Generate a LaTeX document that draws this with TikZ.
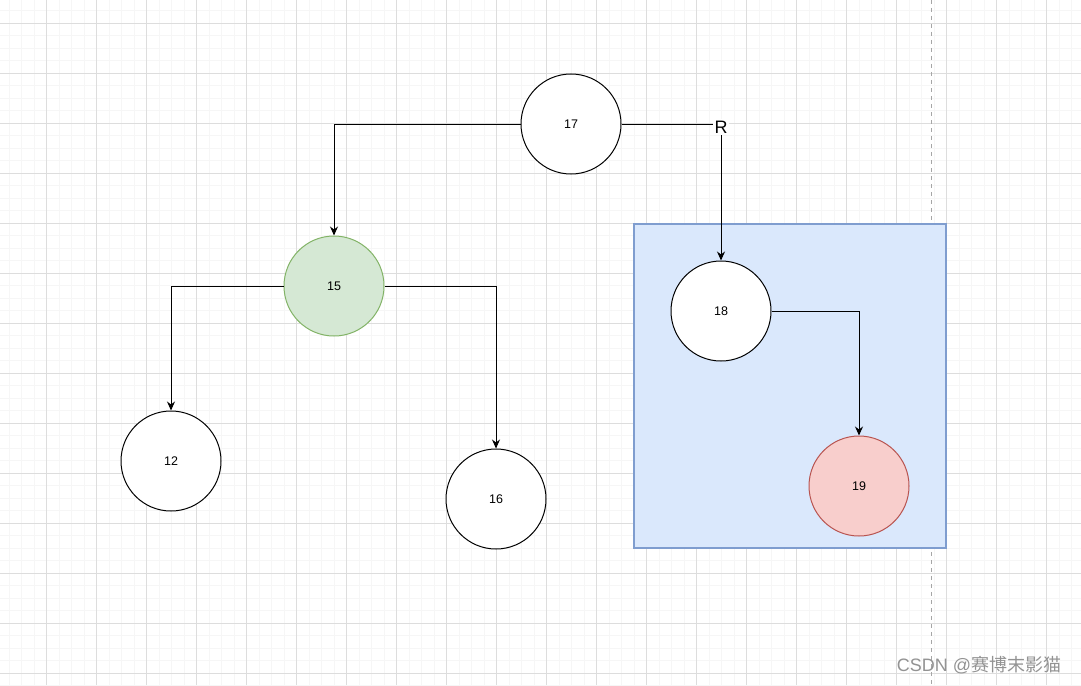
\documentclass[tikz,border=0pt]{standalone}
\usepackage{fontspec}
\setmainfont{Liberation Sans}
\newfontfamily\cjkfont{Noto Sans CJK SC}
\usetikzlibrary{arrows.meta}
\definecolor{gridminor}{HTML}{F6F6F6}
\definecolor{gridmajor}{HTML}{DDDDDD}
\definecolor{gfill}{HTML}{D5E8D4}
\definecolor{gline}{HTML}{82B366}
\definecolor{rfill}{HTML}{F8CECC}
\definecolor{rline}{HTML}{B85450}
\definecolor{bfill}{HTML}{DAE8FC}
\definecolor{bline}{HTML}{7F9DCF}
\tikzset{
  treenode/.style={circle, draw=black, fill=white, line width=1pt, minimum size=100pt, inner sep=0pt, font=\fontsize{12.5}{14}\selectfont},
  greennode/.style={treenode, draw=gline, fill=gfill},
  rednode/.style={treenode, draw=rline, fill=rfill},
  link/.style={draw=black, line width=1pt, -{Stealth[length=9pt,width=8pt]}},
}
\begin{document}
\begin{tikzpicture}[x=1pt,y=-1pt]
\useasboundingbox (0,0) rectangle (1081,685);
\fill[white] (0,0) rectangle (1081,685);
% grid
\foreach \i in {0,...,86} {
  \draw[gridminor, line width=0.8pt] ({9+12.5*\i},0) -- ({9+12.5*\i},685);
}
\foreach \i in {0,...,55} {
  \draw[gridminor, line width=0.8pt] (0,{10.8+12.5*\i}) -- (1081,{10.8+12.5*\i});
}
\foreach \i in {0,...,21} {
  \draw[gridmajor, line width=0.8pt] ({46.5+50*\i},0) -- ({46.5+50*\i},685);
}
\foreach \i in {0,...,13} {
  \draw[gridmajor, line width=0.8pt] (0,{23.3+50*\i}) -- (1081,{23.3+50*\i});
}
\draw[gray!70, line width=1pt, dash pattern=on 4pt off 4pt] (931,0) -- (931,685);
% blue region
\draw[draw=bline, fill=bfill, line width=1.5pt] (634,224) rectangle (946,548);
% nodes
\node[treenode] (n17) at (571,124) {17};
\node[greennode] (n15) at (334,286) {15};
\node[treenode] (n12) at (171,461) {12};
\node[treenode] (n16) at (496,499) {16};
\node[treenode] (n18) at (721,311) {18};
\node[rednode] (n19) at (859,486) {19};
% edges
\draw[link] (n17.west) -| (n15.north);
\draw[link] (n17.east) -| node[pos=0.5, yshift=-3pt, fill=white, inner sep=1.5pt, font=\fontsize{18}{20}\selectfont] {R} (n18.north);
\draw[link] (n15.west) -| (n12.north);
\draw[link] (n15.east) -| (n16.north);
\draw[link] (n18.east) -| (n19.north);
% watermark
\node[text=gray!85, font=\fontsize{18}{20}\selectfont, anchor=center] (wm) at (979,665) {CSDN @{\cjkfont 赛博末影猫}};
\end{tikzpicture}
\end{document}
